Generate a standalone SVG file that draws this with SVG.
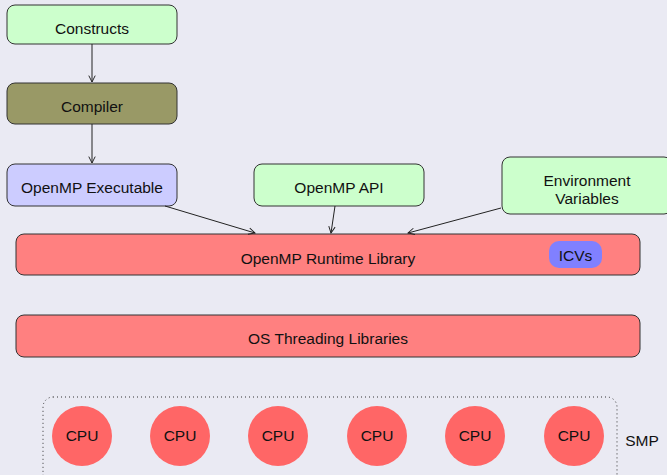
<svg xmlns="http://www.w3.org/2000/svg" width="667" height="475" viewBox="0 0 667 475">
<defs>
<marker id="arr" viewBox="0 0 10 10" refX="9" refY="5" markerWidth="8" markerHeight="8" orient="auto" markerUnits="userSpaceOnUse">
<path d="M1,1 L9,5 L1,9" fill="none" stroke="#222" stroke-width="1.2"/>
</marker>
<style>
text{font-family:"Liberation Sans",Arial,sans-serif;font-size:15.5px;fill:#111;text-anchor:middle;dominant-baseline:central}
.box{stroke:#333;stroke-width:1}
.cpu{fill:#ff6666}
.edge{stroke:#222;stroke-width:1;fill:none;marker-end:url(#arr)}
</style>
</defs>
<rect width="667" height="475" fill="#eaeaf3"/>
<g id="constructs"><rect class="box" x="7" y="5" width="170" height="39" rx="8" fill="#ccffcc"/><text x="92" y="28">Constructs</text></g>
<g id="compiler"><rect class="box" x="7" y="83" width="170" height="41" rx="8" fill="#999966"/><text x="92" y="106">Compiler</text></g>
<g id="executable"><rect class="box" x="7" y="164" width="170" height="42" rx="8" fill="#ccccff"/><text x="92" y="187">OpenMP Executable</text></g>
<g id="api"><rect class="box" x="254" y="164" width="170" height="42" rx="8" fill="#ccffcc"/><text x="339" y="187">OpenMP API</text></g>
<g id="env"><rect class="box" x="502" y="157" width="170" height="57" rx="8" fill="#ccffcc"/><text x="587" y="180">Environment</text><text x="587" y="198">Variables</text></g>
<g id="runtime"><rect class="box" x="16" y="234" width="624" height="41" rx="8" fill="#ff8080"/><text x="328" y="258">OpenMP Runtime Library</text>
<g id="icvs"><rect x="549" y="241" width="53" height="27" rx="10" fill="#8080ff"/><text x="575.5" y="255">ICVs</text></g></g>
<g id="os"><rect class="box" x="16" y="315" width="624" height="42" rx="8" fill="#ff8080"/><text x="328" y="338">OS Threading Libraries</text></g>
<g id="smp"><rect x="43" y="397" width="574" height="95" rx="10" fill="none" stroke="#333" stroke-width="1" stroke-dasharray="1,3"/><text x="642" y="440">SMP</text></g>
<g id="cpu1"><circle class="cpu" cx="82" cy="436" r="30"/><text x="82" y="435">CPU</text></g>
<g id="cpu2"><circle class="cpu" cx="180" cy="436" r="30"/><text x="180" y="435">CPU</text></g>
<g id="cpu3"><circle class="cpu" cx="278" cy="436" r="30"/><text x="278" y="435">CPU</text></g>
<g id="cpu4"><circle class="cpu" cx="377" cy="436" r="30"/><text x="377" y="435">CPU</text></g>
<g id="cpu5"><circle class="cpu" cx="475" cy="436" r="30"/><text x="475" y="435">CPU</text></g>
<g id="cpu6"><circle class="cpu" cx="574" cy="436" r="30"/><text x="574" y="435">CPU</text></g>
<g id="connectors">
<line class="edge" x1="92" y1="44" x2="92" y2="82"/>
<line class="edge" x1="92" y1="124" x2="92" y2="163"/>
<line class="edge" x1="165" y1="206" x2="255" y2="233"/>
<line class="edge" x1="335" y1="206" x2="331" y2="233"/>
<line class="edge" x1="501" y1="208" x2="408" y2="233"/>
</g>
</svg>
